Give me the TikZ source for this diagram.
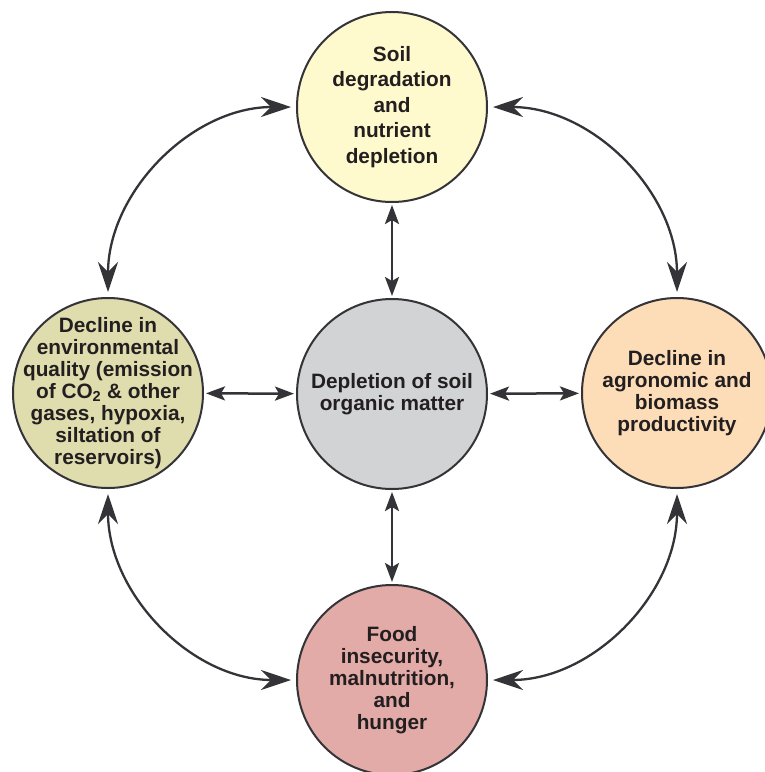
\documentclass[tikz,border=0pt]{standalone}
\usepackage{fontspec}
\setmainfont{Liberation Sans}
\usepackage{tikz}
\usetikzlibrary{arrows.meta}

\definecolor{soilfill}{HTML}{FFFACD}
\definecolor{somfill}{HTML}{D1D3D4}
\definecolor{envfill}{HTML}{DFDDAD}
\definecolor{agrofill}{HTML}{FDDDB8}
\definecolor{foodfill}{HTML}{E2ABA7}
\definecolor{edgegray}{HTML}{333338}
\definecolor{textgray}{HTML}{231F20}

\begin{document}
\begin{tikzpicture}[x=1pt, y=1pt,
    topic/.style={shape=circle, draw=edgegray, line width=2pt, minimum size=190pt, inner sep=0pt},
    topictext/.style={align=center, inner sep=0pt, text=textgray, font=\fontsize{20.8}{22}\selectfont\bfseries},
    straightlink/.style={color=edgegray, line width=2.5pt,
        {Stealth[length=19pt,width=14pt,inset=4pt]}-{Stealth[length=19pt,width=14pt,inset=4pt]},
        shorten <=2pt, shorten >=2pt},
    curvelink/.style={color=edgegray, line width=2.3pt,
        {Stealth[length=30pt,width=20pt,inset=10pt]}-{Stealth[length=30pt,width=20pt,inset=10pt]},
        shorten <=5pt, shorten >=5pt}]
        \useasboundingbox (0,0) rectangle (764,-772);

        \node[topic, fill=soilfill, label={[topictext, font=\fontsize{20.8}{25.6}\selectfont\bfseries]center:{Soil\\degradation\\and\\nutrient\\depletion}}] (S) at (392,-107) {};
        \node[topic, fill=somfill, label={[topictext]center:{Depletion of soil\\organic matter}}] (C) at (392,-394) {};
        \node[topic, fill=envfill, label={[topictext]center:{Decline in\\environmental\\quality (emission\\of CO\textsubscript{2} \& other\\gases, hypoxia,\\siltation of\\reservoirs)}}] (E) at (108,-393) {};
        \node[topic, fill=agrofill, label={[topictext]center:{Decline in\\agronomic and\\biomass\\productivity}}] (A) at (677,-393) {};
        \node[topic, fill=foodfill, label={[topictext]center:{Food\\insecurity,\\malnutrition,\\and\\hunger}}] (F) at (392,-680) {};

        \path [straightlink] (S) edge (C);
        \path [straightlink] (C) edge (F);
        \path [straightlink] (E) edge (C);
        \path [straightlink] (C) edge (A);

        \path [curvelink] (S) edge[out=180, in=90] (E);
        \path [curvelink] (E) edge[out=-90, in=180] (F);
        \path [curvelink] (F) edge[out=0, in=-90] (A);
        \path [curvelink] (A) edge[out=90, in=0] (S);
    \end{tikzpicture}
\end{document}
